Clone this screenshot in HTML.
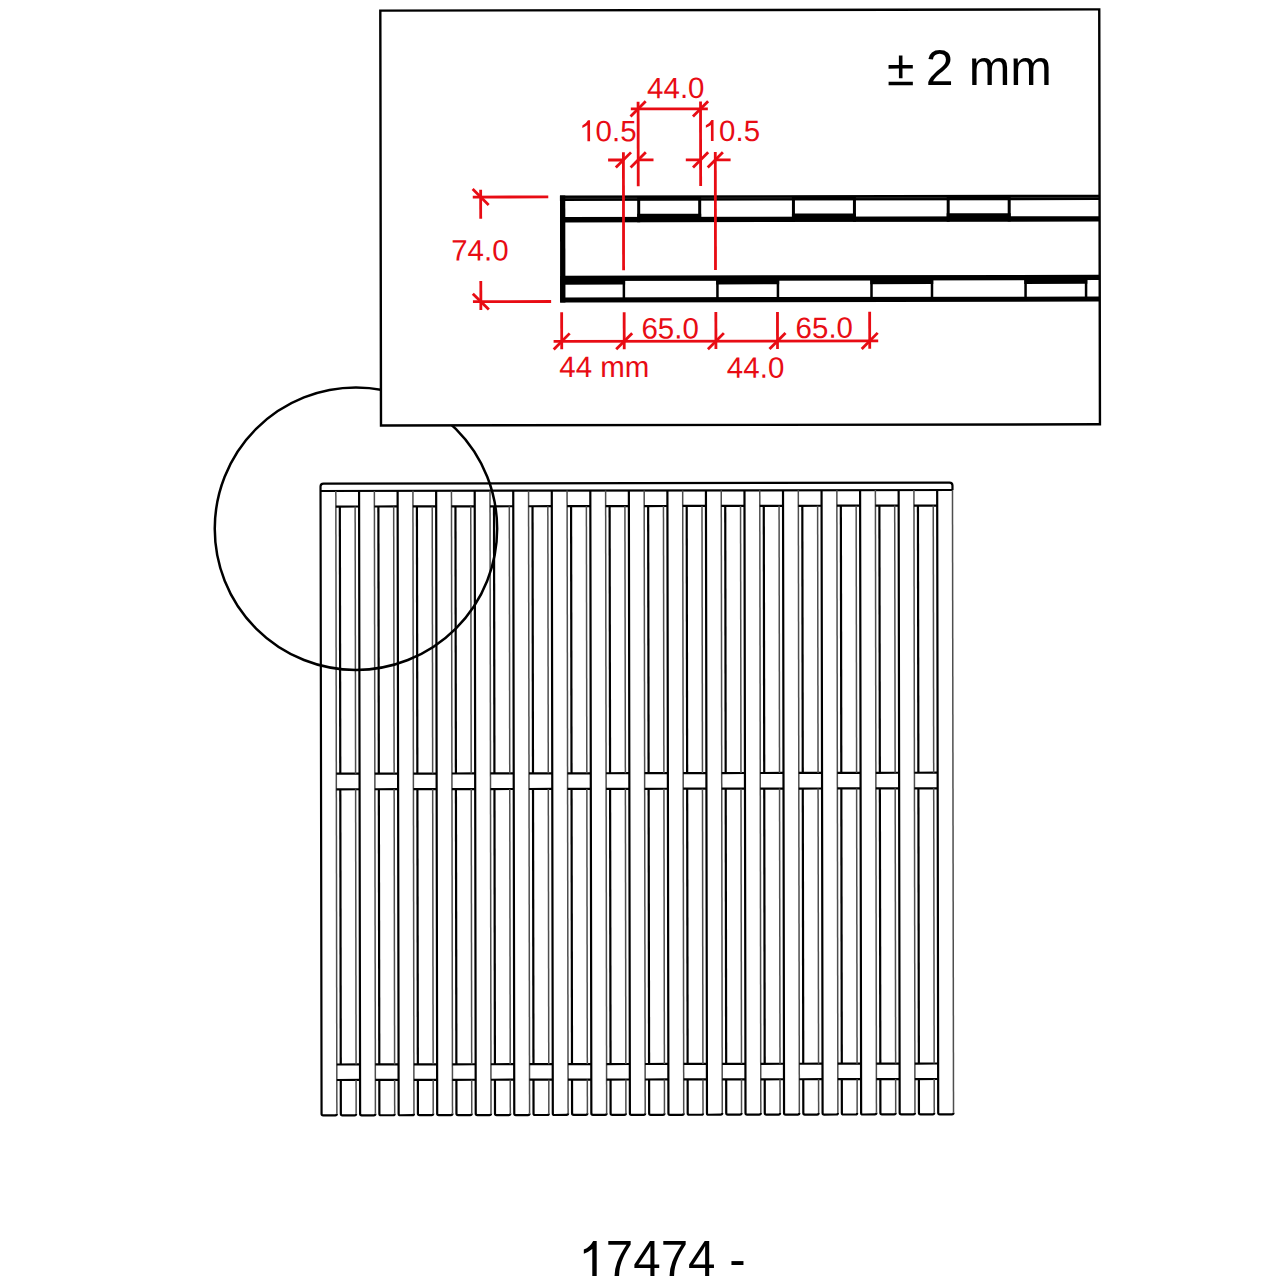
<!DOCTYPE html>
<html><head><meta charset="utf-8"><style>
html,body{margin:0;padding:0;background:#fff;overflow:hidden;}
svg{display:block;}
text{font-family:"Liberation Sans",sans-serif;}
</style></head><body>
<svg width="1280" height="1280" viewBox="0 0 1280 1280">
<rect x="0" y="0" width="1280" height="1280" fill="#fff"/>
<g transform="rotate(-0.095 637 800)">
<path d="M321.05,490.5 L321.05,486.1 Q321.05,483.1 324.05,483.1 L949.99,483.1 Q952.99,483.1 952.99,486.1 L952.99,490.5" fill="none" stroke="#000" stroke-width="2.2"/>
<line x1="321.05" y1="490.5" x2="952.99" y2="490.5" stroke="#000" stroke-width="2.2"/>
<path d="M321.05,490.5 L321.05,1113.25 Q321.05,1114.85 322.65,1114.85 L334.75,1114.85 Q336.35,1114.85 336.35,1113.25" fill="none" stroke="#000" stroke-width="2.2"/>
<path d="M336.35,1113.25 L336.35,490.5" fill="none" stroke="#4e4e4e" stroke-width="1.5"/>
<path d="M359.59,490.5 L359.59,1113.25 Q359.59,1114.85 361.19,1114.85 L373.29,1114.85 Q374.89,1114.85 374.89,1113.25" fill="none" stroke="#000" stroke-width="2.2"/>
<path d="M374.89,1113.25 L374.89,490.5" fill="none" stroke="#4e4e4e" stroke-width="1.5"/>
<path d="M398.13,490.5 L398.13,1113.25 Q398.13,1114.85 399.73,1114.85 L411.83,1114.85 Q413.43,1114.85 413.43,1113.25" fill="none" stroke="#000" stroke-width="2.2"/>
<path d="M413.43,1113.25 L413.43,490.5" fill="none" stroke="#4e4e4e" stroke-width="1.5"/>
<path d="M436.67,490.5 L436.67,1113.25 Q436.67,1114.85 438.27,1114.85 L450.37,1114.85 Q451.97,1114.85 451.97,1113.25" fill="none" stroke="#000" stroke-width="2.2"/>
<path d="M451.97,1113.25 L451.97,490.5" fill="none" stroke="#4e4e4e" stroke-width="1.5"/>
<path d="M475.21,490.5 L475.21,1113.25 Q475.21,1114.85 476.81,1114.85 L488.91,1114.85 Q490.51,1114.85 490.51,1113.25" fill="none" stroke="#000" stroke-width="2.2"/>
<path d="M490.51,1113.25 L490.51,490.5" fill="none" stroke="#4e4e4e" stroke-width="1.5"/>
<path d="M513.75,490.5 L513.75,1113.25 Q513.75,1114.85 515.35,1114.85 L527.45,1114.85 Q529.05,1114.85 529.05,1113.25" fill="none" stroke="#000" stroke-width="2.2"/>
<path d="M529.05,1113.25 L529.05,490.5" fill="none" stroke="#4e4e4e" stroke-width="1.5"/>
<path d="M552.29,490.5 L552.29,1113.25 Q552.29,1114.85 553.89,1114.85 L565.99,1114.85 Q567.59,1114.85 567.59,1113.25" fill="none" stroke="#000" stroke-width="2.2"/>
<path d="M567.59,1113.25 L567.59,490.5" fill="none" stroke="#4e4e4e" stroke-width="1.5"/>
<path d="M590.83,490.5 L590.83,1113.25 Q590.83,1114.85 592.43,1114.85 L604.53,1114.85 Q606.13,1114.85 606.13,1113.25" fill="none" stroke="#000" stroke-width="2.2"/>
<path d="M606.13,1113.25 L606.13,490.5" fill="none" stroke="#4e4e4e" stroke-width="1.5"/>
<path d="M629.37,490.5 L629.37,1113.25 Q629.37,1114.85 630.97,1114.85 L643.07,1114.85 Q644.67,1114.85 644.67,1113.25" fill="none" stroke="#000" stroke-width="2.2"/>
<path d="M644.67,1113.25 L644.67,490.5" fill="none" stroke="#4e4e4e" stroke-width="1.5"/>
<path d="M667.91,490.5 L667.91,1113.25 Q667.91,1114.85 669.51,1114.85 L681.61,1114.85 Q683.21,1114.85 683.21,1113.25" fill="none" stroke="#000" stroke-width="2.2"/>
<path d="M683.21,1113.25 L683.21,490.5" fill="none" stroke="#4e4e4e" stroke-width="1.5"/>
<path d="M706.45,490.5 L706.45,1113.25 Q706.45,1114.85 708.05,1114.85 L720.15,1114.85 Q721.75,1114.85 721.75,1113.25" fill="none" stroke="#000" stroke-width="2.2"/>
<path d="M721.75,1113.25 L721.75,490.5" fill="none" stroke="#4e4e4e" stroke-width="1.5"/>
<path d="M744.99,490.5 L744.99,1113.25 Q744.99,1114.85 746.59,1114.85 L758.69,1114.85 Q760.29,1114.85 760.29,1113.25" fill="none" stroke="#000" stroke-width="2.2"/>
<path d="M760.29,1113.25 L760.29,490.5" fill="none" stroke="#4e4e4e" stroke-width="1.5"/>
<path d="M783.53,490.5 L783.53,1113.25 Q783.53,1114.85 785.13,1114.85 L797.23,1114.85 Q798.83,1114.85 798.83,1113.25" fill="none" stroke="#000" stroke-width="2.2"/>
<path d="M798.83,1113.25 L798.83,490.5" fill="none" stroke="#4e4e4e" stroke-width="1.5"/>
<path d="M822.07,490.5 L822.07,1113.25 Q822.07,1114.85 823.67,1114.85 L835.77,1114.85 Q837.37,1114.85 837.37,1113.25" fill="none" stroke="#000" stroke-width="2.2"/>
<path d="M837.37,1113.25 L837.37,490.5" fill="none" stroke="#4e4e4e" stroke-width="1.5"/>
<path d="M860.61,490.5 L860.61,1113.25 Q860.61,1114.85 862.21,1114.85 L874.31,1114.85 Q875.91,1114.85 875.91,1113.25" fill="none" stroke="#000" stroke-width="2.2"/>
<path d="M875.91,1113.25 L875.91,490.5" fill="none" stroke="#4e4e4e" stroke-width="1.5"/>
<path d="M899.15,490.5 L899.15,1113.25 Q899.15,1114.85 900.75,1114.85 L912.85,1114.85 Q914.45,1114.85 914.45,1113.25" fill="none" stroke="#000" stroke-width="2.2"/>
<path d="M914.45,1113.25 L914.45,490.5" fill="none" stroke="#4e4e4e" stroke-width="1.5"/>
<path d="M937.69,490.5 L937.69,1113.25 Q937.69,1114.85 939.29,1114.85 L951.39,1114.85 Q952.99,1114.85 952.99,1113.25" fill="none" stroke="#000" stroke-width="2.2"/>
<path d="M952.99,1113.25 L952.99,490.5" fill="none" stroke="#4e4e4e" stroke-width="1.5"/>
<line x1="336.35" y1="506.05" x2="359.59" y2="506.05" stroke="#000" stroke-width="2.2"/>
<line x1="336.35" y1="773.2" x2="359.59" y2="773.2" stroke="#000" stroke-width="2.2"/>
<line x1="336.35" y1="788.8" x2="359.59" y2="788.8" stroke="#000" stroke-width="2.2"/>
<line x1="336.35" y1="1064.0" x2="359.59" y2="1064.0" stroke="#000" stroke-width="2.2"/>
<line x1="336.35" y1="1079.5" x2="359.59" y2="1079.5" stroke="#000" stroke-width="2.2"/>
<line x1="340.32" y1="506.05" x2="340.32" y2="773.2" stroke="#000" stroke-width="2.2"/>
<line x1="355.62" y1="506.05" x2="355.62" y2="773.2" stroke="#4e4e4e" stroke-width="1.5"/>
<line x1="340.32" y1="788.8" x2="340.32" y2="1064.0" stroke="#000" stroke-width="2.2"/>
<line x1="355.62" y1="788.8" x2="355.62" y2="1064.0" stroke="#4e4e4e" stroke-width="1.5"/>
<path d="M340.32,1079.5 L340.32,1113.25 Q340.32,1114.85 341.92,1114.85 L354.02,1114.85 Q355.62,1114.85 355.62,1113.25" fill="none" stroke="#000" stroke-width="2.2"/>
<path d="M355.62,1113.25 L355.62,1079.5" fill="none" stroke="#4e4e4e" stroke-width="1.5"/>
<line x1="374.89" y1="506.05" x2="398.13" y2="506.05" stroke="#000" stroke-width="2.2"/>
<line x1="374.89" y1="773.2" x2="398.13" y2="773.2" stroke="#000" stroke-width="2.2"/>
<line x1="374.89" y1="788.8" x2="398.13" y2="788.8" stroke="#000" stroke-width="2.2"/>
<line x1="374.89" y1="1064.0" x2="398.13" y2="1064.0" stroke="#000" stroke-width="2.2"/>
<line x1="374.89" y1="1079.5" x2="398.13" y2="1079.5" stroke="#000" stroke-width="2.2"/>
<line x1="378.86" y1="506.05" x2="378.86" y2="773.2" stroke="#000" stroke-width="2.2"/>
<line x1="394.16" y1="506.05" x2="394.16" y2="773.2" stroke="#4e4e4e" stroke-width="1.5"/>
<line x1="378.86" y1="788.8" x2="378.86" y2="1064.0" stroke="#000" stroke-width="2.2"/>
<line x1="394.16" y1="788.8" x2="394.16" y2="1064.0" stroke="#4e4e4e" stroke-width="1.5"/>
<path d="M378.86,1079.5 L378.86,1113.25 Q378.86,1114.85 380.46,1114.85 L392.56,1114.85 Q394.16,1114.85 394.16,1113.25" fill="none" stroke="#000" stroke-width="2.2"/>
<path d="M394.16,1113.25 L394.16,1079.5" fill="none" stroke="#4e4e4e" stroke-width="1.5"/>
<line x1="413.43" y1="506.05" x2="436.67" y2="506.05" stroke="#000" stroke-width="2.2"/>
<line x1="413.43" y1="773.2" x2="436.67" y2="773.2" stroke="#000" stroke-width="2.2"/>
<line x1="413.43" y1="788.8" x2="436.67" y2="788.8" stroke="#000" stroke-width="2.2"/>
<line x1="413.43" y1="1064.0" x2="436.67" y2="1064.0" stroke="#000" stroke-width="2.2"/>
<line x1="413.43" y1="1079.5" x2="436.67" y2="1079.5" stroke="#000" stroke-width="2.2"/>
<line x1="417.40" y1="506.05" x2="417.40" y2="773.2" stroke="#000" stroke-width="2.2"/>
<line x1="432.70" y1="506.05" x2="432.70" y2="773.2" stroke="#4e4e4e" stroke-width="1.5"/>
<line x1="417.40" y1="788.8" x2="417.40" y2="1064.0" stroke="#000" stroke-width="2.2"/>
<line x1="432.70" y1="788.8" x2="432.70" y2="1064.0" stroke="#4e4e4e" stroke-width="1.5"/>
<path d="M417.40,1079.5 L417.40,1113.25 Q417.40,1114.85 419.00,1114.85 L431.10,1114.85 Q432.70,1114.85 432.70,1113.25" fill="none" stroke="#000" stroke-width="2.2"/>
<path d="M432.70,1113.25 L432.70,1079.5" fill="none" stroke="#4e4e4e" stroke-width="1.5"/>
<line x1="451.97" y1="506.05" x2="475.21" y2="506.05" stroke="#000" stroke-width="2.2"/>
<line x1="451.97" y1="773.2" x2="475.21" y2="773.2" stroke="#000" stroke-width="2.2"/>
<line x1="451.97" y1="788.8" x2="475.21" y2="788.8" stroke="#000" stroke-width="2.2"/>
<line x1="451.97" y1="1064.0" x2="475.21" y2="1064.0" stroke="#000" stroke-width="2.2"/>
<line x1="451.97" y1="1079.5" x2="475.21" y2="1079.5" stroke="#000" stroke-width="2.2"/>
<line x1="455.94" y1="506.05" x2="455.94" y2="773.2" stroke="#000" stroke-width="2.2"/>
<line x1="471.24" y1="506.05" x2="471.24" y2="773.2" stroke="#4e4e4e" stroke-width="1.5"/>
<line x1="455.94" y1="788.8" x2="455.94" y2="1064.0" stroke="#000" stroke-width="2.2"/>
<line x1="471.24" y1="788.8" x2="471.24" y2="1064.0" stroke="#4e4e4e" stroke-width="1.5"/>
<path d="M455.94,1079.5 L455.94,1113.25 Q455.94,1114.85 457.54,1114.85 L469.64,1114.85 Q471.24,1114.85 471.24,1113.25" fill="none" stroke="#000" stroke-width="2.2"/>
<path d="M471.24,1113.25 L471.24,1079.5" fill="none" stroke="#4e4e4e" stroke-width="1.5"/>
<line x1="490.51" y1="506.05" x2="513.75" y2="506.05" stroke="#000" stroke-width="2.2"/>
<line x1="490.51" y1="773.2" x2="513.75" y2="773.2" stroke="#000" stroke-width="2.2"/>
<line x1="490.51" y1="788.8" x2="513.75" y2="788.8" stroke="#000" stroke-width="2.2"/>
<line x1="490.51" y1="1064.0" x2="513.75" y2="1064.0" stroke="#000" stroke-width="2.2"/>
<line x1="490.51" y1="1079.5" x2="513.75" y2="1079.5" stroke="#000" stroke-width="2.2"/>
<line x1="494.48" y1="506.05" x2="494.48" y2="773.2" stroke="#000" stroke-width="2.2"/>
<line x1="509.78" y1="506.05" x2="509.78" y2="773.2" stroke="#4e4e4e" stroke-width="1.5"/>
<line x1="494.48" y1="788.8" x2="494.48" y2="1064.0" stroke="#000" stroke-width="2.2"/>
<line x1="509.78" y1="788.8" x2="509.78" y2="1064.0" stroke="#4e4e4e" stroke-width="1.5"/>
<path d="M494.48,1079.5 L494.48,1113.25 Q494.48,1114.85 496.08,1114.85 L508.18,1114.85 Q509.78,1114.85 509.78,1113.25" fill="none" stroke="#000" stroke-width="2.2"/>
<path d="M509.78,1113.25 L509.78,1079.5" fill="none" stroke="#4e4e4e" stroke-width="1.5"/>
<line x1="529.05" y1="506.05" x2="552.29" y2="506.05" stroke="#000" stroke-width="2.2"/>
<line x1="529.05" y1="773.2" x2="552.29" y2="773.2" stroke="#000" stroke-width="2.2"/>
<line x1="529.05" y1="788.8" x2="552.29" y2="788.8" stroke="#000" stroke-width="2.2"/>
<line x1="529.05" y1="1064.0" x2="552.29" y2="1064.0" stroke="#000" stroke-width="2.2"/>
<line x1="529.05" y1="1079.5" x2="552.29" y2="1079.5" stroke="#000" stroke-width="2.2"/>
<line x1="533.02" y1="506.05" x2="533.02" y2="773.2" stroke="#000" stroke-width="2.2"/>
<line x1="548.32" y1="506.05" x2="548.32" y2="773.2" stroke="#4e4e4e" stroke-width="1.5"/>
<line x1="533.02" y1="788.8" x2="533.02" y2="1064.0" stroke="#000" stroke-width="2.2"/>
<line x1="548.32" y1="788.8" x2="548.32" y2="1064.0" stroke="#4e4e4e" stroke-width="1.5"/>
<path d="M533.02,1079.5 L533.02,1113.25 Q533.02,1114.85 534.62,1114.85 L546.72,1114.85 Q548.32,1114.85 548.32,1113.25" fill="none" stroke="#000" stroke-width="2.2"/>
<path d="M548.32,1113.25 L548.32,1079.5" fill="none" stroke="#4e4e4e" stroke-width="1.5"/>
<line x1="567.59" y1="506.05" x2="590.83" y2="506.05" stroke="#000" stroke-width="2.2"/>
<line x1="567.59" y1="773.2" x2="590.83" y2="773.2" stroke="#000" stroke-width="2.2"/>
<line x1="567.59" y1="788.8" x2="590.83" y2="788.8" stroke="#000" stroke-width="2.2"/>
<line x1="567.59" y1="1064.0" x2="590.83" y2="1064.0" stroke="#000" stroke-width="2.2"/>
<line x1="567.59" y1="1079.5" x2="590.83" y2="1079.5" stroke="#000" stroke-width="2.2"/>
<line x1="571.56" y1="506.05" x2="571.56" y2="773.2" stroke="#000" stroke-width="2.2"/>
<line x1="586.86" y1="506.05" x2="586.86" y2="773.2" stroke="#4e4e4e" stroke-width="1.5"/>
<line x1="571.56" y1="788.8" x2="571.56" y2="1064.0" stroke="#000" stroke-width="2.2"/>
<line x1="586.86" y1="788.8" x2="586.86" y2="1064.0" stroke="#4e4e4e" stroke-width="1.5"/>
<path d="M571.56,1079.5 L571.56,1113.25 Q571.56,1114.85 573.16,1114.85 L585.26,1114.85 Q586.86,1114.85 586.86,1113.25" fill="none" stroke="#000" stroke-width="2.2"/>
<path d="M586.86,1113.25 L586.86,1079.5" fill="none" stroke="#4e4e4e" stroke-width="1.5"/>
<line x1="606.13" y1="506.05" x2="629.37" y2="506.05" stroke="#000" stroke-width="2.2"/>
<line x1="606.13" y1="773.2" x2="629.37" y2="773.2" stroke="#000" stroke-width="2.2"/>
<line x1="606.13" y1="788.8" x2="629.37" y2="788.8" stroke="#000" stroke-width="2.2"/>
<line x1="606.13" y1="1064.0" x2="629.37" y2="1064.0" stroke="#000" stroke-width="2.2"/>
<line x1="606.13" y1="1079.5" x2="629.37" y2="1079.5" stroke="#000" stroke-width="2.2"/>
<line x1="610.10" y1="506.05" x2="610.10" y2="773.2" stroke="#000" stroke-width="2.2"/>
<line x1="625.40" y1="506.05" x2="625.40" y2="773.2" stroke="#4e4e4e" stroke-width="1.5"/>
<line x1="610.10" y1="788.8" x2="610.10" y2="1064.0" stroke="#000" stroke-width="2.2"/>
<line x1="625.40" y1="788.8" x2="625.40" y2="1064.0" stroke="#4e4e4e" stroke-width="1.5"/>
<path d="M610.10,1079.5 L610.10,1113.25 Q610.10,1114.85 611.70,1114.85 L623.80,1114.85 Q625.40,1114.85 625.40,1113.25" fill="none" stroke="#000" stroke-width="2.2"/>
<path d="M625.40,1113.25 L625.40,1079.5" fill="none" stroke="#4e4e4e" stroke-width="1.5"/>
<line x1="644.67" y1="506.05" x2="667.91" y2="506.05" stroke="#000" stroke-width="2.2"/>
<line x1="644.67" y1="773.2" x2="667.91" y2="773.2" stroke="#000" stroke-width="2.2"/>
<line x1="644.67" y1="788.8" x2="667.91" y2="788.8" stroke="#000" stroke-width="2.2"/>
<line x1="644.67" y1="1064.0" x2="667.91" y2="1064.0" stroke="#000" stroke-width="2.2"/>
<line x1="644.67" y1="1079.5" x2="667.91" y2="1079.5" stroke="#000" stroke-width="2.2"/>
<line x1="648.64" y1="506.05" x2="648.64" y2="773.2" stroke="#000" stroke-width="2.2"/>
<line x1="663.94" y1="506.05" x2="663.94" y2="773.2" stroke="#4e4e4e" stroke-width="1.5"/>
<line x1="648.64" y1="788.8" x2="648.64" y2="1064.0" stroke="#000" stroke-width="2.2"/>
<line x1="663.94" y1="788.8" x2="663.94" y2="1064.0" stroke="#4e4e4e" stroke-width="1.5"/>
<path d="M648.64,1079.5 L648.64,1113.25 Q648.64,1114.85 650.24,1114.85 L662.34,1114.85 Q663.94,1114.85 663.94,1113.25" fill="none" stroke="#000" stroke-width="2.2"/>
<path d="M663.94,1113.25 L663.94,1079.5" fill="none" stroke="#4e4e4e" stroke-width="1.5"/>
<line x1="683.21" y1="506.05" x2="706.45" y2="506.05" stroke="#000" stroke-width="2.2"/>
<line x1="683.21" y1="773.2" x2="706.45" y2="773.2" stroke="#000" stroke-width="2.2"/>
<line x1="683.21" y1="788.8" x2="706.45" y2="788.8" stroke="#000" stroke-width="2.2"/>
<line x1="683.21" y1="1064.0" x2="706.45" y2="1064.0" stroke="#000" stroke-width="2.2"/>
<line x1="683.21" y1="1079.5" x2="706.45" y2="1079.5" stroke="#000" stroke-width="2.2"/>
<line x1="687.18" y1="506.05" x2="687.18" y2="773.2" stroke="#000" stroke-width="2.2"/>
<line x1="702.48" y1="506.05" x2="702.48" y2="773.2" stroke="#4e4e4e" stroke-width="1.5"/>
<line x1="687.18" y1="788.8" x2="687.18" y2="1064.0" stroke="#000" stroke-width="2.2"/>
<line x1="702.48" y1="788.8" x2="702.48" y2="1064.0" stroke="#4e4e4e" stroke-width="1.5"/>
<path d="M687.18,1079.5 L687.18,1113.25 Q687.18,1114.85 688.78,1114.85 L700.88,1114.85 Q702.48,1114.85 702.48,1113.25" fill="none" stroke="#000" stroke-width="2.2"/>
<path d="M702.48,1113.25 L702.48,1079.5" fill="none" stroke="#4e4e4e" stroke-width="1.5"/>
<line x1="721.75" y1="506.05" x2="744.99" y2="506.05" stroke="#000" stroke-width="2.2"/>
<line x1="721.75" y1="773.2" x2="744.99" y2="773.2" stroke="#000" stroke-width="2.2"/>
<line x1="721.75" y1="788.8" x2="744.99" y2="788.8" stroke="#000" stroke-width="2.2"/>
<line x1="721.75" y1="1064.0" x2="744.99" y2="1064.0" stroke="#000" stroke-width="2.2"/>
<line x1="721.75" y1="1079.5" x2="744.99" y2="1079.5" stroke="#000" stroke-width="2.2"/>
<line x1="725.72" y1="506.05" x2="725.72" y2="773.2" stroke="#000" stroke-width="2.2"/>
<line x1="741.02" y1="506.05" x2="741.02" y2="773.2" stroke="#4e4e4e" stroke-width="1.5"/>
<line x1="725.72" y1="788.8" x2="725.72" y2="1064.0" stroke="#000" stroke-width="2.2"/>
<line x1="741.02" y1="788.8" x2="741.02" y2="1064.0" stroke="#4e4e4e" stroke-width="1.5"/>
<path d="M725.72,1079.5 L725.72,1113.25 Q725.72,1114.85 727.32,1114.85 L739.42,1114.85 Q741.02,1114.85 741.02,1113.25" fill="none" stroke="#000" stroke-width="2.2"/>
<path d="M741.02,1113.25 L741.02,1079.5" fill="none" stroke="#4e4e4e" stroke-width="1.5"/>
<line x1="760.29" y1="506.05" x2="783.53" y2="506.05" stroke="#000" stroke-width="2.2"/>
<line x1="760.29" y1="773.2" x2="783.53" y2="773.2" stroke="#000" stroke-width="2.2"/>
<line x1="760.29" y1="788.8" x2="783.53" y2="788.8" stroke="#000" stroke-width="2.2"/>
<line x1="760.29" y1="1064.0" x2="783.53" y2="1064.0" stroke="#000" stroke-width="2.2"/>
<line x1="760.29" y1="1079.5" x2="783.53" y2="1079.5" stroke="#000" stroke-width="2.2"/>
<line x1="764.26" y1="506.05" x2="764.26" y2="773.2" stroke="#000" stroke-width="2.2"/>
<line x1="779.56" y1="506.05" x2="779.56" y2="773.2" stroke="#4e4e4e" stroke-width="1.5"/>
<line x1="764.26" y1="788.8" x2="764.26" y2="1064.0" stroke="#000" stroke-width="2.2"/>
<line x1="779.56" y1="788.8" x2="779.56" y2="1064.0" stroke="#4e4e4e" stroke-width="1.5"/>
<path d="M764.26,1079.5 L764.26,1113.25 Q764.26,1114.85 765.86,1114.85 L777.96,1114.85 Q779.56,1114.85 779.56,1113.25" fill="none" stroke="#000" stroke-width="2.2"/>
<path d="M779.56,1113.25 L779.56,1079.5" fill="none" stroke="#4e4e4e" stroke-width="1.5"/>
<line x1="798.83" y1="506.05" x2="822.07" y2="506.05" stroke="#000" stroke-width="2.2"/>
<line x1="798.83" y1="773.2" x2="822.07" y2="773.2" stroke="#000" stroke-width="2.2"/>
<line x1="798.83" y1="788.8" x2="822.07" y2="788.8" stroke="#000" stroke-width="2.2"/>
<line x1="798.83" y1="1064.0" x2="822.07" y2="1064.0" stroke="#000" stroke-width="2.2"/>
<line x1="798.83" y1="1079.5" x2="822.07" y2="1079.5" stroke="#000" stroke-width="2.2"/>
<line x1="802.80" y1="506.05" x2="802.80" y2="773.2" stroke="#000" stroke-width="2.2"/>
<line x1="818.10" y1="506.05" x2="818.10" y2="773.2" stroke="#4e4e4e" stroke-width="1.5"/>
<line x1="802.80" y1="788.8" x2="802.80" y2="1064.0" stroke="#000" stroke-width="2.2"/>
<line x1="818.10" y1="788.8" x2="818.10" y2="1064.0" stroke="#4e4e4e" stroke-width="1.5"/>
<path d="M802.80,1079.5 L802.80,1113.25 Q802.80,1114.85 804.40,1114.85 L816.50,1114.85 Q818.10,1114.85 818.10,1113.25" fill="none" stroke="#000" stroke-width="2.2"/>
<path d="M818.10,1113.25 L818.10,1079.5" fill="none" stroke="#4e4e4e" stroke-width="1.5"/>
<line x1="837.37" y1="506.05" x2="860.61" y2="506.05" stroke="#000" stroke-width="2.2"/>
<line x1="837.37" y1="773.2" x2="860.61" y2="773.2" stroke="#000" stroke-width="2.2"/>
<line x1="837.37" y1="788.8" x2="860.61" y2="788.8" stroke="#000" stroke-width="2.2"/>
<line x1="837.37" y1="1064.0" x2="860.61" y2="1064.0" stroke="#000" stroke-width="2.2"/>
<line x1="837.37" y1="1079.5" x2="860.61" y2="1079.5" stroke="#000" stroke-width="2.2"/>
<line x1="841.34" y1="506.05" x2="841.34" y2="773.2" stroke="#000" stroke-width="2.2"/>
<line x1="856.64" y1="506.05" x2="856.64" y2="773.2" stroke="#4e4e4e" stroke-width="1.5"/>
<line x1="841.34" y1="788.8" x2="841.34" y2="1064.0" stroke="#000" stroke-width="2.2"/>
<line x1="856.64" y1="788.8" x2="856.64" y2="1064.0" stroke="#4e4e4e" stroke-width="1.5"/>
<path d="M841.34,1079.5 L841.34,1113.25 Q841.34,1114.85 842.94,1114.85 L855.04,1114.85 Q856.64,1114.85 856.64,1113.25" fill="none" stroke="#000" stroke-width="2.2"/>
<path d="M856.64,1113.25 L856.64,1079.5" fill="none" stroke="#4e4e4e" stroke-width="1.5"/>
<line x1="875.91" y1="506.05" x2="899.15" y2="506.05" stroke="#000" stroke-width="2.2"/>
<line x1="875.91" y1="773.2" x2="899.15" y2="773.2" stroke="#000" stroke-width="2.2"/>
<line x1="875.91" y1="788.8" x2="899.15" y2="788.8" stroke="#000" stroke-width="2.2"/>
<line x1="875.91" y1="1064.0" x2="899.15" y2="1064.0" stroke="#000" stroke-width="2.2"/>
<line x1="875.91" y1="1079.5" x2="899.15" y2="1079.5" stroke="#000" stroke-width="2.2"/>
<line x1="879.88" y1="506.05" x2="879.88" y2="773.2" stroke="#000" stroke-width="2.2"/>
<line x1="895.18" y1="506.05" x2="895.18" y2="773.2" stroke="#4e4e4e" stroke-width="1.5"/>
<line x1="879.88" y1="788.8" x2="879.88" y2="1064.0" stroke="#000" stroke-width="2.2"/>
<line x1="895.18" y1="788.8" x2="895.18" y2="1064.0" stroke="#4e4e4e" stroke-width="1.5"/>
<path d="M879.88,1079.5 L879.88,1113.25 Q879.88,1114.85 881.48,1114.85 L893.58,1114.85 Q895.18,1114.85 895.18,1113.25" fill="none" stroke="#000" stroke-width="2.2"/>
<path d="M895.18,1113.25 L895.18,1079.5" fill="none" stroke="#4e4e4e" stroke-width="1.5"/>
<line x1="914.45" y1="506.05" x2="937.69" y2="506.05" stroke="#000" stroke-width="2.2"/>
<line x1="914.45" y1="773.2" x2="937.69" y2="773.2" stroke="#000" stroke-width="2.2"/>
<line x1="914.45" y1="788.8" x2="937.69" y2="788.8" stroke="#000" stroke-width="2.2"/>
<line x1="914.45" y1="1064.0" x2="937.69" y2="1064.0" stroke="#000" stroke-width="2.2"/>
<line x1="914.45" y1="1079.5" x2="937.69" y2="1079.5" stroke="#000" stroke-width="2.2"/>
<line x1="918.42" y1="506.05" x2="918.42" y2="773.2" stroke="#000" stroke-width="2.2"/>
<line x1="933.72" y1="506.05" x2="933.72" y2="773.2" stroke="#4e4e4e" stroke-width="1.5"/>
<line x1="918.42" y1="788.8" x2="918.42" y2="1064.0" stroke="#000" stroke-width="2.2"/>
<line x1="933.72" y1="788.8" x2="933.72" y2="1064.0" stroke="#4e4e4e" stroke-width="1.5"/>
<path d="M918.42,1079.5 L918.42,1113.25 Q918.42,1114.85 920.02,1114.85 L932.12,1114.85 Q933.72,1114.85 933.72,1113.25" fill="none" stroke="#000" stroke-width="2.2"/>
<path d="M933.72,1113.25 L933.72,1079.5" fill="none" stroke="#4e4e4e" stroke-width="1.5"/>
</g>
<circle cx="355.95" cy="528.7" r="141.2" fill="none" stroke="#000" stroke-width="2.5"/>
<g transform="rotate(-0.095 740 218)">
<rect x="380.65" y="10.0" width="718.95" height="414.9" fill="#fff" stroke="#000" stroke-width="2.4"/>
<rect x="560.00" y="195.30" width="539.60" height="5.30" fill="#000"/>
<rect x="560.00" y="216.80" width="539.60" height="5.30" fill="#000"/>
<rect x="560.00" y="195.30" width="5.30" height="107.00" fill="#000"/>
<rect x="560.00" y="275.40" width="539.60" height="5.30" fill="#000"/>
<rect x="560.00" y="297.10" width="539.60" height="5.10" fill="#000"/>
<rect x="637.20" y="199.50" width="3.00" height="22.50" fill="#000"/>
<rect x="698.20" y="199.50" width="3.00" height="22.50" fill="#000"/>
<rect x="637.20" y="213.60" width="64.00" height="6.40" fill="#000"/>
<rect x="791.95" y="199.50" width="3.00" height="22.50" fill="#000"/>
<rect x="852.95" y="199.50" width="3.00" height="22.50" fill="#000"/>
<rect x="791.95" y="213.60" width="64.00" height="6.40" fill="#000"/>
<rect x="946.70" y="199.50" width="3.00" height="22.50" fill="#000"/>
<rect x="1007.70" y="199.50" width="3.00" height="22.50" fill="#000"/>
<rect x="946.70" y="213.60" width="64.00" height="6.40" fill="#000"/>
<rect x="560.00" y="279.50" width="2.50" height="19.00" fill="#000"/>
<rect x="622.50" y="279.50" width="2.50" height="19.00" fill="#000"/>
<rect x="560.00" y="279.50" width="65.00" height="4.90" fill="#000"/>
<rect x="716.07" y="279.50" width="2.50" height="19.00" fill="#000"/>
<rect x="776.57" y="279.50" width="2.50" height="19.00" fill="#000"/>
<rect x="716.07" y="279.50" width="63.00" height="4.90" fill="#000"/>
<rect x="870.14" y="279.50" width="2.50" height="19.00" fill="#000"/>
<rect x="930.64" y="279.50" width="2.50" height="19.00" fill="#000"/>
<rect x="870.14" y="279.50" width="63.00" height="4.90" fill="#000"/>
<rect x="1024.21" y="279.50" width="2.50" height="19.00" fill="#000"/>
<rect x="1084.71" y="279.50" width="2.50" height="19.00" fill="#000"/>
<rect x="1024.21" y="279.50" width="63.00" height="4.90" fill="#000"/>
<line x1="565.30" y1="198.0" x2="637.20" y2="198.0" stroke="#3a3a3a" stroke-width="0.7"/>
<line x1="701.20" y1="198.0" x2="791.95" y2="198.0" stroke="#3a3a3a" stroke-width="0.7"/>
<line x1="855.95" y1="198.0" x2="946.70" y2="198.0" stroke="#3a3a3a" stroke-width="0.7"/>
<line x1="1010.70" y1="198.0" x2="1098.50" y2="198.0" stroke="#3a3a3a" stroke-width="0.7"/>
<line x1="631.00" y1="108.75" x2="708.00" y2="108.75" stroke="#e80c14" stroke-width="2.8" stroke-linecap="butt"/>
<line x1="630.70" y1="116.35" x2="645.90" y2="101.15" stroke="#e80c14" stroke-width="2.8" stroke-linecap="butt"/>
<line x1="638.30" y1="101.50" x2="638.30" y2="186.00" stroke="#e80c14" stroke-width="2.8" stroke-linecap="butt"/>
<line x1="693.10" y1="116.35" x2="708.30" y2="101.15" stroke="#e80c14" stroke-width="2.8" stroke-linecap="butt"/>
<line x1="700.70" y1="101.50" x2="700.70" y2="186.00" stroke="#e80c14" stroke-width="2.8" stroke-linecap="butt"/>
<line x1="608.20" y1="159.80" x2="623.50" y2="159.80" stroke="#e80c14" stroke-width="2.8" stroke-linecap="butt"/>
<line x1="638.30" y1="159.80" x2="653.60" y2="159.80" stroke="#e80c14" stroke-width="2.8" stroke-linecap="butt"/>
<line x1="685.90" y1="159.80" x2="700.70" y2="159.80" stroke="#e80c14" stroke-width="2.8" stroke-linecap="butt"/>
<line x1="715.40" y1="159.80" x2="730.70" y2="159.80" stroke="#e80c14" stroke-width="2.8" stroke-linecap="butt"/>
<line x1="615.90" y1="167.40" x2="631.10" y2="152.20" stroke="#e80c14" stroke-width="2.8" stroke-linecap="butt"/>
<line x1="630.70" y1="167.40" x2="645.90" y2="152.20" stroke="#e80c14" stroke-width="2.8" stroke-linecap="butt"/>
<line x1="693.10" y1="167.40" x2="708.30" y2="152.20" stroke="#e80c14" stroke-width="2.8" stroke-linecap="butt"/>
<line x1="707.80" y1="167.40" x2="723.00" y2="152.20" stroke="#e80c14" stroke-width="2.8" stroke-linecap="butt"/>
<line x1="623.50" y1="152.00" x2="623.50" y2="270.00" stroke="#e80c14" stroke-width="2.8" stroke-linecap="butt"/>
<line x1="715.40" y1="152.00" x2="715.40" y2="270.00" stroke="#e80c14" stroke-width="2.8" stroke-linecap="butt"/>
<line x1="472.80" y1="196.60" x2="548.30" y2="196.60" stroke="#e80c14" stroke-width="2.8" stroke-linecap="butt"/>
<line x1="472.80" y1="301.20" x2="551.00" y2="301.20" stroke="#e80c14" stroke-width="2.8" stroke-linecap="butt"/>
<line x1="480.70" y1="189.30" x2="480.70" y2="218.30" stroke="#e80c14" stroke-width="2.8" stroke-linecap="butt"/>
<line x1="480.70" y1="280.60" x2="480.70" y2="309.60" stroke="#e80c14" stroke-width="2.8" stroke-linecap="butt"/>
<line x1="472.70" y1="188.60" x2="488.70" y2="204.60" stroke="#e80c14" stroke-width="2.8" stroke-linecap="butt"/>
<line x1="472.70" y1="293.20" x2="488.70" y2="309.20" stroke="#e80c14" stroke-width="2.8" stroke-linecap="butt"/>
<line x1="553.40" y1="341.10" x2="878.00" y2="341.10" stroke="#e80c14" stroke-width="2.8" stroke-linecap="butt"/>
<line x1="561.50" y1="312.00" x2="561.50" y2="349.00" stroke="#e80c14" stroke-width="2.8" stroke-linecap="butt"/>
<line x1="553.50" y1="349.10" x2="569.50" y2="333.10" stroke="#e80c14" stroke-width="2.8" stroke-linecap="butt"/>
<line x1="624.00" y1="312.00" x2="624.00" y2="349.00" stroke="#e80c14" stroke-width="2.8" stroke-linecap="butt"/>
<line x1="616.00" y1="349.10" x2="632.00" y2="333.10" stroke="#e80c14" stroke-width="2.8" stroke-linecap="butt"/>
<line x1="715.70" y1="312.00" x2="715.70" y2="349.00" stroke="#e80c14" stroke-width="2.8" stroke-linecap="butt"/>
<line x1="707.70" y1="349.10" x2="723.70" y2="333.10" stroke="#e80c14" stroke-width="2.8" stroke-linecap="butt"/>
<line x1="777.30" y1="312.00" x2="777.30" y2="349.00" stroke="#e80c14" stroke-width="2.8" stroke-linecap="butt"/>
<line x1="769.30" y1="349.10" x2="785.30" y2="333.10" stroke="#e80c14" stroke-width="2.8" stroke-linecap="butt"/>
<line x1="869.50" y1="312.00" x2="869.50" y2="349.00" stroke="#e80c14" stroke-width="2.8" stroke-linecap="butt"/>
<line x1="861.50" y1="349.10" x2="877.50" y2="333.10" stroke="#e80c14" stroke-width="2.8" stroke-linecap="butt"/>
<text x="647.32" y="98.00" font-size="29.5" fill="#e80c14" xml:space="preserve">44.0</text>
<path d="M590.20,141.00 L587.57,141.00 L587.57,124.83 Q585.45,126.55 582.50,127.72 L582.50,125.19 Q586.19,123.74 588.11,120.03 L590.20,120.03 Z" fill="#e80c14"/>
<text x="595.66" y="141.00" font-size="29.5" fill="#e80c14" xml:space="preserve">0.5</text>
<path d="M713.70,141.00 L711.07,141.00 L711.07,124.83 Q708.95,126.55 706.00,127.72 L706.00,125.19 Q709.69,123.74 711.61,120.03 L713.70,120.03 Z" fill="#e80c14"/>
<text x="719.16" y="141.00" font-size="29.5" fill="#e80c14" xml:space="preserve">0.5</text>
<text x="451.09" y="260.10" font-size="29.5" fill="#e80c14" xml:space="preserve">74.0</text>
<text x="641.20" y="338.40" font-size="29.5" fill="#e80c14" xml:space="preserve">65.0</text>
<text x="559.02" y="376.80" font-size="29.5" fill="#e80c14" xml:space="preserve">44 mm</text>
<text x="726.62" y="377.80" font-size="29.5" fill="#e80c14" xml:space="preserve">44.0</text>
<text x="795.40" y="338.00" font-size="29.5" fill="#e80c14" xml:space="preserve">65.0</text>
<text x="887.20" y="85.40" font-size="50" fill="#000" xml:space="preserve">±</text>
<text x="925.90" y="85.40" font-size="50" fill="#000" xml:space="preserve">2</text>
<text x="968.90" y="85.40" font-size="50" fill="#000" xml:space="preserve">mm</text>
</g>
<path d="M596.69,1276.00 L592.30,1276.00 L592.30,1248.98 Q588.75,1251.84 583.82,1253.82 L583.82,1249.58 Q589.99,1247.16 593.19,1240.95 L596.69,1240.95 Z" fill="#000"/>
<text x="605.82" y="1276.00" font-size="49.3" fill="#000" xml:space="preserve">7474 -</text>
</svg>
</body></html>
